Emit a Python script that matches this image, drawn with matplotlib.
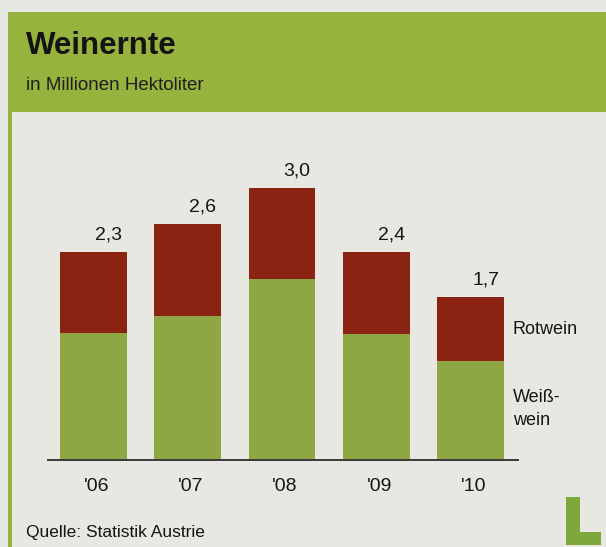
import matplotlib
matplotlib.use("Agg")
import matplotlib.pyplot as plt
from matplotlib.patches import Rectangle

plt.rcParams['font.family'] = ['Liberation Sans', 'DejaVu Sans']

years = ["'06", "'07", "'08", "'09", "'10"]
weisswein = [1.40, 1.59, 2.00, 1.39, 1.09]
rotwein = [0.89, 1.01, 1.00, 0.90, 0.71]
total_labels = ["2,3", "2,6", "3,0", "2,4", "1,7"]

W, H = 606, 547
fig = plt.figure(figsize=(W / 100, H / 100), dpi=100)
fig.patch.set_facecolor('#e8e8e3')

# header band
fig.patches.append(Rectangle((8 / W, 1 - 112 / H), (W - 8) / W, 100 / H,
                             transform=fig.transFigure, facecolor='#96b43d',
                             edgecolor='none', zorder=0))
# left green border
fig.patches.append(Rectangle((8 / W, 0), 4 / W, 1 - 112 / H,
                             transform=fig.transFigure, facecolor='#96b43d',
                             edgecolor='none', zorder=0))

fig.text(26 / W, 1 - 46 / H, "Weinernte", fontsize=22.5, fontweight='bold',
         color='#141414', va='center', ha='left')
fig.text(26 / W, 1 - 86 / H, "in Millionen Hektoliter", fontsize=13.5,
         color='#1e1e1e', va='center', ha='left')

# axes: x 48..518 px, y 160..460 px
ax = fig.add_axes([48 / W, 1 - 460 / H, 470 / W, 300 / H])
ax.set_facecolor('none')
x = list(range(len(years)))
ax.bar(x, weisswein, width=0.71, color='#8fa743', edgecolor='none')
ax.bar(x, rotwein, width=0.71, bottom=weisswein, color='#8a2312', edgecolor='none')
ax.set_xlim(-0.483, 4.504)
ax.set_ylim(0, 300 / 90.7)

for xi, g, r, lab in zip(x, weisswein, rotwein, total_labels):
    ax.annotate(lab, (xi + 0.16, g + r), xytext=(0, 17), textcoords='offset pixels',
                ha='center', va='center', fontsize=14, color='#151515')

for s in ['top', 'right', 'left']:
    ax.spines[s].set_visible(False)
ax.spines['bottom'].set_color('#3a3a3a')
ax.spines['bottom'].set_linewidth(1.4)
ax.set_yticks([])
ax.set_xticks([xi + 0.03 for xi in x])
ax.set_xticklabels(years, fontsize=14, color='#151515')
ax.tick_params(axis='x', length=0, pad=13)

fig.text(513 / W, 1 - 330 / H, "Rotwein", fontsize=13, color='#151515',
         va='center', ha='left')
fig.text(513 / W, 1 - 409 / H, "Weiß-\nwein", fontsize=13, color='#151515',
         va='center', ha='left', linespacing=1.4)

fig.text(26 / W, 1 - 533 / H, "Quelle: Statistik Austrie", fontsize=12.5,
         color='#151515', va='center', ha='left')

# logo "L"
fig.patches.append(Rectangle((566 / W, 1 - 545 / H), 14 / W, 48 / H,
                             transform=fig.transFigure, facecolor='#7fa83a',
                             edgecolor='none'))
fig.patches.append(Rectangle((566 / W, 1 - 545 / H), 35 / W, 13 / H,
                             transform=fig.transFigure, facecolor='#7fa83a',
                             edgecolor='none'))

fig.savefig("out.png", dpi=100, facecolor=fig.get_facecolor())
